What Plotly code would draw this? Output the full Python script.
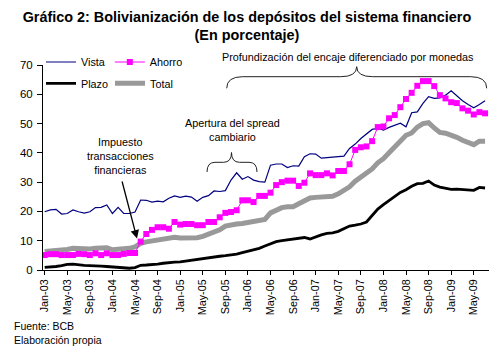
import plotly.graph_objects as go

# Monthly data, Jan-03 .. Jul-09 (percent)
vista = [19.9, 20.5, 20.7, 19.1, 19.3, 20.5, 19.9, 19.4, 19.9, 21.3, 21.4, 22.2, 19.3, 21.4, 19.3, 19.3,
         19.8, 23.9, 23.8, 23.2, 23.5, 23.3, 24.5, 25.3, 24.8, 25.2, 24.9, 23.5, 24.8, 25.4, 27.0, 26.8,
         27.1, 30.7, 33.2, 31.0, 31.9, 30.7, 30.2, 30.0, 35.8, 36.2, 36.2, 35.0, 35.6, 35.5, 38.7, 39.7,
         39.6, 38.2, 38.4, 38.6, 38.8, 38.9, 41.5, 43.0, 44.9, 46.5, 48.0, 48.4, 47.8, 48.7, 49.3, 50.1,
         48.9, 53.7, 54.0, 56.9, 59.2, 58.6, 58.8, 59.7, 61.2, 59.4, 57.8, 56.5, 55.4, 56.5, 57.8]
ahorro = [5.1, 5.4, 5.4, 5.1, 5.1, 5.1, 5.5, 5.4, 5.1, 5.7, 5.1, 5.7, 5.1, 5.1, 5.5, 5.8,
          5.8, 9.7, 12.3, 13.7, 14.6, 14.6, 14.1, 16.4, 15.5, 15.7, 15.7, 15.3, 15.3, 16.4, 16.4, 18.0,
          19.5, 19.8, 20.4, 23.8, 23.8, 23.2, 25.3, 25.3, 26.4, 29.0, 30.0, 30.5, 30.5, 28.7, 29.8, 33.0,
          32.4, 32.4, 33.0, 32.3, 33.8, 33.8, 36.1, 41.0, 41.9, 42.2, 44.0, 48.8, 49.0, 51.8, 52.9, 55.6,
          58.4, 60.5, 62.9, 64.5, 64.5, 62.8, 59.7, 58.6, 57.3, 57.0, 55.2, 54.4, 53.1, 53.9, 53.5]
plazo = [0.9, 1.0, 1.2, 1.5, 1.9, 2.0, 1.7, 1.6, 1.5, 1.5, 1.3, 1.2, 1.1, 1.0, 0.8, 0.6,
         0.8, 1.6, 1.7, 1.8, 2.0, 2.3, 2.6, 2.7, 2.8, 3.1, 3.4, 3.6, 4.0, 4.2, 4.4, 4.7,
         4.9, 5.1, 5.4, 5.9, 6.4, 6.9, 7.4, 8.2, 8.9, 9.7, 10.0, 10.3, 10.5, 10.9, 11.1, 10.6,
         11.4, 12.0, 12.5, 12.7, 13.2, 14.0, 15.0, 15.3, 15.7, 16.4, 18.8, 20.8, 22.3, 23.8, 25.2, 26.5,
         27.4, 28.6, 29.5, 29.6, 30.4, 29.0, 28.3, 27.8, 27.5, 27.6, 27.5, 27.3, 27.2, 28.2, 28.0]
total = [6.3, 6.4, 6.5, 6.7, 7.0, 7.4, 7.2, 7.1, 7.2, 7.4, 7.5, 7.6, 6.9, 7.0, 7.2, 7.4,
         7.9, 9.1, 9.6, 9.9, 10.1, 10.4, 10.8, 11.2, 10.9, 10.8, 10.8, 11.0, 11.5, 12.2, 13.0, 13.7,
         15.0, 15.5, 15.7, 15.9, 16.2, 16.6, 17.0, 17.3, 19.5, 20.6, 21.3, 21.6, 21.6, 22.6, 23.8, 24.6,
         24.8, 24.9, 25.0, 25.2, 26.0, 27.2, 28.4, 30.3, 31.6, 33.0, 34.5, 36.6, 38.0, 40.0, 42.0, 44.0,
         46.0, 46.8, 48.8, 50.0, 50.3, 48.5, 47.0, 46.7, 46.2, 45.3, 44.3, 43.6, 42.8, 44.0, 44.0]
tick_labels = ["Jan-03", "May-03", "Sep-03", "Jan-04", "May-04", "Sep-04", "Jan-05", "May-05",
               "Sep-05", "Jan-06", "May-06", "Sep-06", "Jan-07", "May-07", "Sep-07", "Jan-08",
               "May-08", "Sep-08", "Jan-09", "May-09"]

months = list(range(len(vista)))
FONT = "Liberation Sans, Arial, sans-serif"
W, H = 504, 361

# plot area in pixels
L, R, T, B = 43, 489, 65, 270
def pxx(x):
    return (x - L) / (R - L)
def pxy(y):
    return (B - y) / (B - T)
def cx(x):
    return x / W
def cy(y):
    return 1 - y / H

fig = go.Figure()
fig.add_trace(go.Scatter(x=months, y=total, name="Total", mode="lines",
                         line=dict(color="#999999", width=5), legend="legend2", legendrank=2))
fig.add_trace(go.Scatter(x=months, y=plazo, name="Plazo", mode="lines",
                         line=dict(color="black", width=2.8), legend="legend2", legendrank=1))
fig.add_trace(go.Scatter(x=months, y=vista, name="Vista", mode="lines",
                         line=dict(color="#000080", width=1.2), legend="legend", legendrank=1))
fig.add_trace(go.Scatter(x=months, y=ahorro, name="Ahorro", mode="lines+markers",
                         line=dict(color="#FF00FF", width=1),
                         marker=dict(symbol="square", size=6, color="#FF00FF"),
                         legend="legend", legendrank=2))

# braces
def brace_up(x0, x1, xt, ytop, ymid, yend, r):
    p = [
        f"M{pxx(x0)},{pxy(yend)}",
        f"Q{pxx(x0)},{pxy(ymid)} {pxx(x0 + r)},{pxy(ymid)}",
        f"L{pxx(xt - r)},{pxy(ymid)}",
        f"Q{pxx(xt)},{pxy(ymid)} {pxx(xt)},{pxy(ytop)}",
        f"Q{pxx(xt)},{pxy(ymid)} {pxx(xt + r)},{pxy(ymid)}",
        f"L{pxx(x1 - r)},{pxy(ymid)}",
        f"Q{pxx(x1)},{pxy(ymid)} {pxx(x1)},{pxy(yend)}",
    ]
    return " ".join(p)

shapes = [
    dict(type="path", xref="paper", yref="paper",
         path=brace_up(207, 257, 231.5, 152.5, 162.3, 172, 8),
         line=dict(color="#222222", width=1)),
    dict(type="path", xref="paper", yref="paper",
         path=brace_up(226.7, 486.7, 356.7, 66.7, 76.7, 88.3, 16),
         line=dict(color="#222222", width=1)),
]

ann_font = dict(family=FONT, size=10.8, color="black")
annotations = [
    dict(text="Profundización del encaje diferenciado por monedas", x=pxx(347.5), y=pxy(57),
         xref="paper", yref="paper", showarrow=False, font=ann_font, xanchor="center", yanchor="middle"),
    dict(text="Apertura del spread<br>cambiario", x=pxx(232), y=pxy(129.5),
         xref="paper", yref="paper", showarrow=False, font=ann_font, xanchor="center", yanchor="middle"),
    dict(text="Impuesto<br>transacciones<br>financieras", x=pxx(120), y=pxy(156),
         xref="paper", yref="paper", showarrow=False, font=ann_font, xanchor="center", yanchor="middle"),
    dict(text="", x=pxx(137), y=pxy(238.5), ax=121.7 - 137, ay=180 - 238.5,
         xref="paper", yref="paper", axref="pixel", ayref="pixel",
         showarrow=True, arrowhead=2, arrowsize=1.3, arrowwidth=1.3, arrowcolor="black"),
    dict(text="Fuente: BCB<br>Elaboración propia", x=pxx(12), y=pxy(333),
         xref="paper", yref="paper", showarrow=False, font=dict(family=FONT, size=10.5, color="black"),
         xanchor="left", yanchor="middle", align="left"),
]

leg_common = dict(orientation="h", xref="container", yref="container", xanchor="left", yanchor="middle",
                  bgcolor="rgba(0,0,0,0)", font=dict(family=FONT, size=10.8, color="black"), itemwidth=30)

fig.update_layout(
    width=W, height=H,
    margin=dict(l=L, r=W - R, t=T, b=H - B, pad=0, autoexpand=False),
    paper_bgcolor="white", plot_bgcolor="white",
    font=dict(family=FONT, size=10.8, color="black"),
    title=dict(text="<b>Gráfico 2: Bolivianización de los depósitos del sistema financiero<br>(En porcentaje)</b>",
               x=0.49, xanchor="center", y=cy(21.5), yanchor="middle", automargin=False,
               font=dict(family=FONT, size=14.4, color="black")),
    xaxis=dict(range=[-0.3, 78.7], tickmode="array", tickvals=months[::4], ticktext=tick_labels,
               tickangle=-90, ticks="outside", ticklen=4, tickcolor="black", showline=True,
               linecolor="black", linewidth=1, showgrid=False, zeroline=False, automargin=False,
               tickfont=dict(family=FONT, size=10.8, color="black")),
    yaxis=dict(range=[0, 70], dtick=10, ticks="outside", ticklen=5, tickcolor="black",
               showline=True, linecolor="black", linewidth=1, showgrid=False, zeroline=False,
               automargin=False, ticklabelstandoff=2,
               tickfont=dict(family=FONT, size=11.5, color="black")),
    legend=dict(x=cx(41), y=cy(62), **leg_common),
    legend2=dict(x=cx(41), y=cy(83.3), entrywidth=24, entrywidthmode="pixels", **leg_common),
    shapes=shapes,
    annotations=annotations,
    showlegend=True,
)

fig.write_html("out.html", config={"displayModeBar": False},
               post_script="document.body.style.margin='0';document.body.style.padding='0';")
